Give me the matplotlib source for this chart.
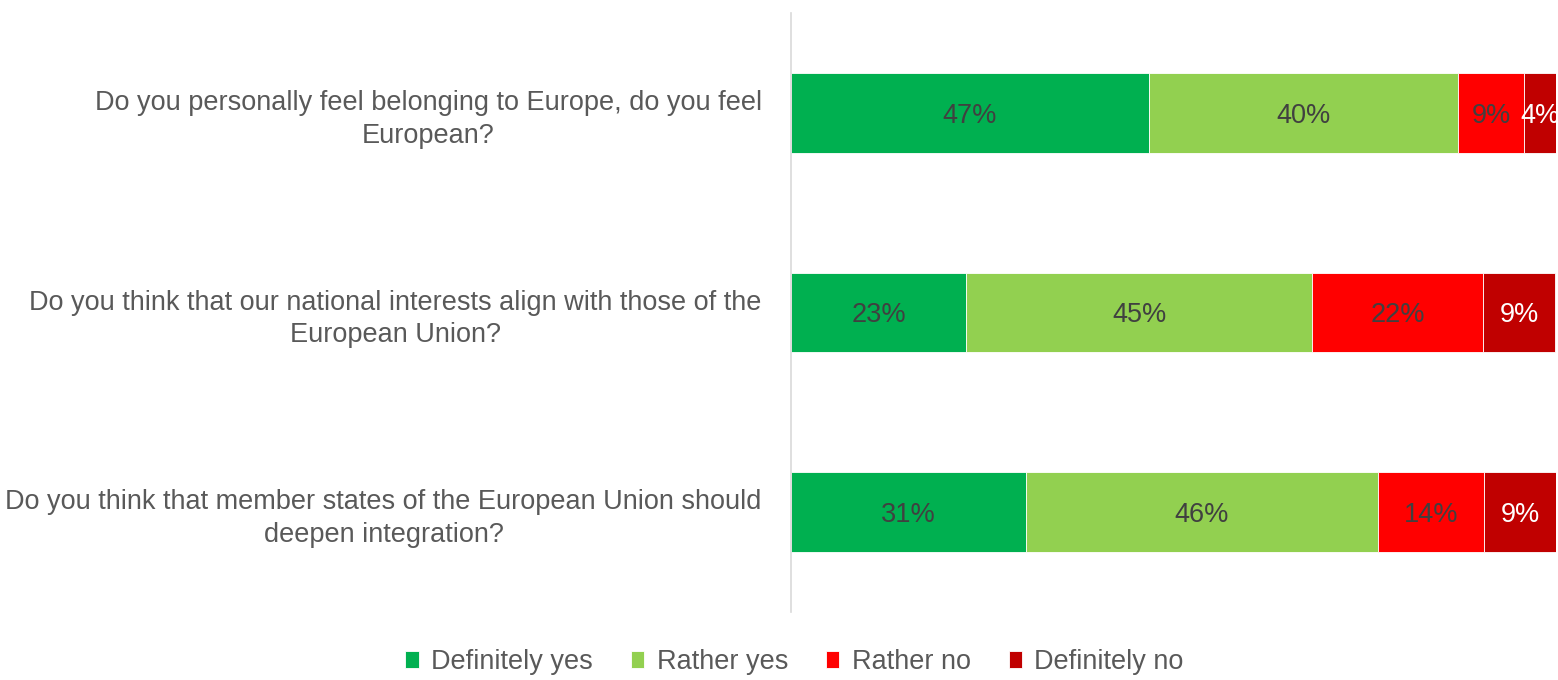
import matplotlib
matplotlib.use("Agg")
import matplotlib.pyplot as plt
import numpy as np

questions = [
    "Do you personally feel belonging to Europe, do you feel\nEuropean?",
    "Do you think that our national interests align with those of the\nEuropean Union?",
    "Do you think that member states of the European Union should\ndeepen integration?",
]
series_names = ["Definitely yes", "Rather yes", "Rather no", "Definitely no"]
definitely_yes = [46.8, 22.9, 30.7]
rather_yes = [40.4, 45.2, 46.0]
rather_no = [8.6, 22.4, 13.9]
definitely_no = [4.2, 9.4, 9.4]

COLORS = ["#00B050", "#92D050", "#FF0000", "#C00000"]
LABEL_COLORS = ["#404040", "#404040", "#404040", "white"]
TEXT_GREY = "#595959"
FONT_SIZE = 19.5

plt.rcParams["font.family"] = ["Liberation Sans", "DejaVu Sans"]

fig = plt.figure(figsize=(15.58, 6.8), dpi=100)
ax = fig.add_axes([791 / 1558, 1 - 612 / 680, 765 / 1558, 599 / 680])

series = [definitely_yes, rather_yes, rather_no, definitely_no]
y = np.arange(len(questions))
left = np.zeros(len(questions))
for name, vals, color, lcolor in zip(series_names, series, COLORS, LABEL_COLORS):
    vals = np.array(vals)
    ax.barh(y, vals, left=left, height=0.4, color=color, label=name,
            edgecolor="white", linewidth=0.6)
    for xi, yi, v in zip(left + vals / 2, y, vals):
        ax.text(xi, yi, f"{v:.0f}%", ha="center", va="center_baseline",
                fontsize=FONT_SIZE, color=lcolor)
    left += vals

ax.set_xlim(0, 100)
ax.set_ylim(len(questions) - 0.5, -0.5)
ax.set_yticks(y)
ax.set_yticklabels(questions, fontsize=FONT_SIZE, color=TEXT_GREY,
                   ha="right", multialignment="center", linespacing=1.35)
ax.tick_params(axis="y", length=0, pad=21)
ax.set_xticks([])
for side in ["top", "right", "bottom"]:
    ax.spines[side].set_visible(False)
ax.spines["left"].set_color("#D9D9D9")
ax.spines["left"].set_linewidth(1.2)

fig.legend(loc="center", bbox_to_anchor=(0.51, 1 - 662 / 680), ncol=4,
           frameon=False, fontsize=FONT_SIZE, labelcolor=TEXT_GREY,
           handlelength=0.5, handleheight=0.6, handletextpad=0.45,
           columnspacing=1.4)

fig.savefig("out.png", dpi=100)
